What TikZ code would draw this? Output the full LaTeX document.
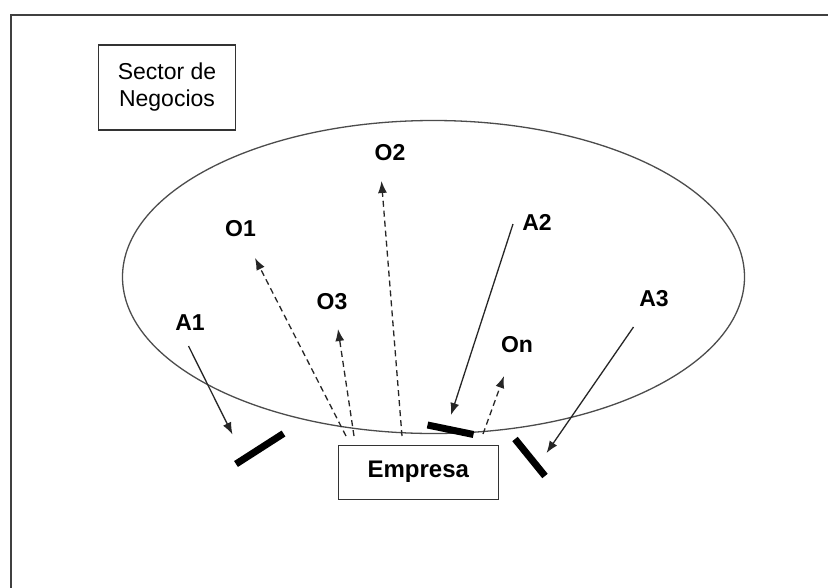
\documentclass[tikz,border=0pt]{standalone}
\usepackage{fontspec}
\setmainfont{Liberation Sans}
\usetikzlibrary{arrows.meta}
\begin{document}
\begin{tikzpicture}[x=1pt,y=-1pt,
  lbl/.style={font=\fontsize{23}{26}\selectfont\bfseries, inner sep=0pt},
  boxnode/.style={draw=black!80, line width=1.4pt, inner sep=0pt},
  opp/.style={-{Latex[length=12pt,width=9pt]}, line width=1.3pt, dash pattern=on 6pt off 4pt, black!85},
  thr/.style={-{Latex[length=12pt,width=9pt]}, line width=1.3pt, black!85},
  bar/.style={line width=7pt, black}]
\useasboundingbox (0,0) rectangle (828,587);
\fill[white] (0,0) rectangle (828,587);
\begin{scope}
\clip (0,0) rectangle (828,587);
\draw[black!75, line width=2pt] (11,14.5) rectangle (850,610);
\end{scope}
% ellipse
\draw[black!70, line width=1.3pt] (433.5,277) ellipse [x radius=311, y radius=156.5];
% boxes
\node[boxnode, minimum width=137pt, minimum height=85pt, align=center,
  font=\fontsize{23}{27}\selectfont] (sector) at (167,87.5) {Sector de\\Negocios};
\node[boxnode, minimum width=160pt, minimum height=54pt,
  font=\fontsize{24}{27}\selectfont\bfseries] (empresa) at (418.3,472.2) {Empresa};
% labels
\node[lbl] (o2) at (390,153) {O2};
\node[lbl] (o1) at (240.5,229) {O1};
\node[lbl] (a2) at (537,222) {A2};
\node[lbl] (o3) at (332,302) {O3};
\node[lbl] (a1) at (190,323) {A1};
\node[lbl] (on) at (517,345) {On};
\node[lbl] (a3) at (654,299) {A3};
% arrow ends
\coordinate (o1s) at (346,436);
\coordinate (o1t) at (255,258);
\coordinate (o3s) at (354,436);
\coordinate (o3t) at (338,329);
\coordinate (o2s) at (402,436);
\coordinate (o2t) at (381.5,181);
\coordinate (ons) at (483,434);
\coordinate (ont) at (504,376);
\coordinate (a2s) at (513,224);
\coordinate (a2t) at (451,415);
\coordinate (a1s) at (188.5,346);
\coordinate (a1t) at (232.5,434.5);
\coordinate (a3s) at (633.5,327);
\coordinate (a3t) at (546.5,453);
% opportunities (dashed)
\draw[opp] (o1s) -- (o1t);
\draw[opp] (o3s) -- (o3t);
\draw[opp] (o2s) -- (o2t);
\draw[opp] (ons) -- (ont);
% threats (solid)
\draw[thr] (a2s) -- (a2t);
\draw[thr] (a1s) -- (a1t);
\draw[thr] (a3s) -- (a3t);
% barriers
\draw[bar] (236,464) -- (283.5,433.5);
\draw[bar] (427.5,425) -- (473.5,434.5);
\draw[bar] (515,439) -- (545,476);
\end{tikzpicture}
\end{document}
